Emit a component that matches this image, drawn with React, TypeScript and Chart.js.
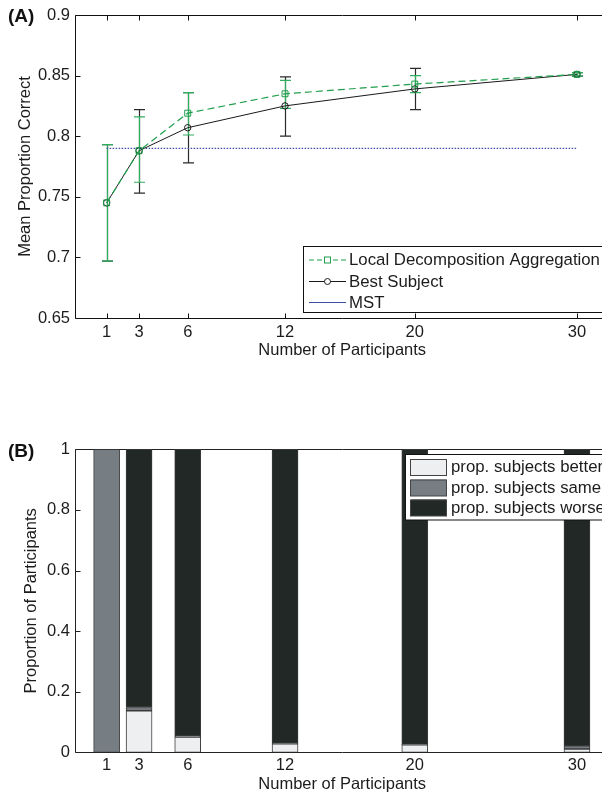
import React, { useEffect, useRef } from "react";
import { Chart, registerables } from "chart.js";
Chart.register(...registerables);

const FONT = "'Liberation Sans', Arial, Helvetica, sans-serif";
const TEXT = "#1c1c1c";

// ---------- Panel A data ----------
const participants = [1, 3, 6, 12, 20, 30];
const ldaMean = [0.745, 0.788, 0.819, 0.835, 0.843, 0.851];
const ldaLow = [0.697, 0.762, 0.801, 0.823, 0.836, 0.8495];
const ldaHigh = [0.793, 0.816, 0.836, 0.846, 0.850, 0.8525];
const bestMean = [0.745, 0.788, 0.807, 0.825, 0.839, 0.851];
const bestLow = [0.697, 0.753, 0.778, 0.800, 0.822, 0.8495];
const bestHigh = [0.793, 0.822, 0.836, 0.849, 0.856, 0.8525];
const mstX = [1, 30];
const mstY = [0.79, 0.79];
const topXTicks = [1, 3, 6, 12, 20, 30];
const topYTicks = [0.65, 0.7, 0.75, 0.8, 0.85, 0.9];
const legendA = ["Local Decomposition Aggregation", "Best Subject", "MST"];

// ---------- Panel B data ----------
const barX = [1, 3, 6, 12, 20, 30];
const propBetter = [0, 0.137, 0.05, 0.028, 0.025, 0.011];
const propSame = [1, 0.011, 0.004, 0.002, 0.001, 0.010];
const propWorse = [0, 0.852, 0.946, 0.970, 0.974, 0.979];
const bottomYTicks = [0, 0.2, 0.4, 0.6, 0.8, 1];
const legendB = ["prop. subjects better", "prop. subjects same", "prop. subjects worse"];

const GREEN = "#1f9e4c";
const GREEN_ERR = "#2fae5e";
const BLACK = "#1a1a1a";
const BLUE = "#3d4ea3";
const C_BETTER = "#eeeff0";
const C_SAME = "#767e84";
const C_WORSE = "#212826";

const pts = (xs: number[], ys: number[]) => xs.map((x, i) => ({ x, y: ys[i] }));

function drawFrame(chart: any, tickTop: boolean, color: string) {
  const { ctx, chartArea } = chart;
  const xs = chart.scales.x;
  const ys = chart.scales.y;
  ctx.save();
  ctx.strokeStyle = color;
  ctx.lineWidth = 1;
  const L = Math.round(chartArea.left) + 0.5;
  const T = Math.round(chartArea.top) + 0.5;
  const B = Math.round(chartArea.bottom) + 0.5;
  const R = chartArea.right;
  ctx.beginPath();
  ctx.moveTo(L, T);
  ctx.lineTo(R, T);
  ctx.moveTo(L, T);
  ctx.lineTo(L, B);
  ctx.lineTo(R, B);
  ctx.stroke();
  ctx.beginPath();
  for (const t of xs.ticks) {
    const px = Math.round(xs.getPixelForValue(t.value)) + 0.5;
    ctx.moveTo(px, B);
    ctx.lineTo(px, B - 5);
    if (tickTop) {
      ctx.moveTo(px, T);
      ctx.lineTo(px, T + 5);
    }
  }
  for (const t of ys.ticks) {
    const py = Math.round(ys.getPixelForValue(t.value)) + 0.5;
    ctx.moveTo(L, py);
    ctx.lineTo(L + 5, py);
  }
  ctx.stroke();
  ctx.restore();
}

function drawPanelLabel(ctx: CanvasRenderingContext2D, text: string, x: number, y: number) {
  ctx.save();
  ctx.fillStyle = "#111";
  ctx.font = `bold 19px ${FONT}`;
  ctx.textBaseline = "middle";
  ctx.textAlign = "left";
  ctx.fillText(text, x, y);
  ctx.restore();
}

const errorBarPlugin = {
  id: "errorBars",
  beforeDatasetsDraw(chart: any) {
    const { ctx } = chart;
    const xs = chart.scales.x;
    const ys = chart.scales.y;
    const sets = [
      { low: bestLow, high: bestHigh, color: "#2a2a2a" },
      { low: ldaLow, high: ldaHigh, color: GREEN_ERR },
    ];
    ctx.save();
    ctx.lineWidth = 1.2;
    for (const s of sets) {
      ctx.strokeStyle = s.color;
      ctx.beginPath();
      participants.forEach((p, i) => {
        const px = Math.round(xs.getPixelForValue(p)) + 0.5;
        const yl = ys.getPixelForValue(s.low[i]);
        const yh = ys.getPixelForValue(s.high[i]);
        ctx.moveTo(px, yl);
        ctx.lineTo(px, yh);
        ctx.moveTo(px - 5.5, yl);
        ctx.lineTo(px + 5.5, yl);
        ctx.moveTo(px - 5.5, yh);
        ctx.lineTo(px + 5.5, yh);
      });
      ctx.stroke();
    }
    ctx.restore();
  },
};

const frameAPlugin = {
  id: "frameA",
  afterDatasetsDraw(chart: any) {
    drawFrame(chart, true, "#111");
  },
  afterDraw(chart: any) {
    const ctx = chart.ctx as CanvasRenderingContext2D;
    drawPanelLabel(ctx, "(A)", 8, 16.5);
    ctx.save();
    const bx = 303.5, by = 246.5, bw = 330, bh = 66;
    ctx.fillStyle = "#fff";
    ctx.fillRect(bx, by, bw, bh);
    ctx.strokeStyle = "#111";
    ctx.lineWidth = 1;
    ctx.strokeRect(bx, by, bw, bh);
    const rows = [260, 281.5, 302.5];
    const x0 = 309, x1 = 346, xm = 327.5;
    ctx.strokeStyle = GREEN;
    ctx.setLineDash([5, 3]);
    ctx.beginPath();
    ctx.moveTo(x0, rows[0]);
    ctx.lineTo(x1, rows[0]);
    ctx.stroke();
    ctx.setLineDash([]);
    ctx.fillStyle = "#fff";
    ctx.fillRect(xm - 3, rows[0] - 3, 6, 6);
    ctx.strokeRect(xm - 3, rows[0] - 3, 6, 6);
    ctx.strokeStyle = BLACK;
    ctx.beginPath();
    ctx.moveTo(x0, rows[1]);
    ctx.lineTo(x1, rows[1]);
    ctx.stroke();
    ctx.fillStyle = "#fff";
    ctx.beginPath();
    ctx.arc(xm, rows[1], 3, 0, Math.PI * 2);
    ctx.fill();
    ctx.stroke();
    ctx.strokeStyle = BLUE;
    ctx.beginPath();
    ctx.moveTo(x0, rows[2]);
    ctx.lineTo(x1, rows[2]);
    ctx.stroke();
    ctx.fillStyle = TEXT;
    ctx.font = `16.8px ${FONT}`;
    ctx.textBaseline = "middle";
    ctx.textAlign = "left";
    legendA.forEach((t, i) => ctx.fillText(t, 349, rows[i] + 0.5));
    ctx.restore();
  },
};

const frameBPlugin = {
  id: "frameB",
  beforeDatasetsDraw(chart: any) {
    drawFrame(chart, true, "#222");
  },
  afterDraw(chart: any) {
    const ctx = chart.ctx as CanvasRenderingContext2D;
    drawPanelLabel(ctx, "(B)", 8, 52);
    ctx.save();
    const bx = 405.5, by = 54.5, bw = 300, bh = 65.5;
    ctx.fillStyle = "#fff";
    ctx.fillRect(bx, by, bw, bh);
    ctx.strokeStyle = "#111";
    ctx.lineWidth = 1;
    ctx.strokeRect(bx, by, bw, bh);
    const fills = [C_BETTER, C_SAME, C_WORSE];
    const tops = [59, 79.5, 99.5];
    tops.forEach((t, i) => {
      ctx.fillStyle = fills[i];
      ctx.fillRect(411, t, 35.5, 16.5);
      ctx.strokeStyle = "#444";
      ctx.strokeRect(410.5, t + 0.5, 36, 16);
    });
    ctx.fillStyle = TEXT;
    ctx.font = `16.8px ${FONT}`;
    ctx.textBaseline = "middle";
    ctx.textAlign = "left";
    legendB.forEach((t, i) => ctx.fillText(t, 451, tops[i] + 8.5));
    ctx.restore();
  },
};

const tickFont = { family: FONT, size: 16.5 };

function configA(): any {
  return {
    type: "line",
    data: {
      datasets: [
        {
          label: legendA[0],
          data: pts(participants, ldaMean),
          borderColor: GREEN,
          borderWidth: 1.2,
          borderDash: [7, 4],
          pointStyle: "rect",
          pointRadius: 4.2,
          pointBorderColor: GREEN,
          pointBackgroundColor: "rgba(255,255,255,0)",
          pointBorderWidth: 1,
          tension: 0,
        },
        {
          label: legendA[1],
          data: pts(participants, bestMean),
          borderColor: BLACK,
          borderWidth: 1,
          pointStyle: "circle",
          pointRadius: 3.2,
          pointBorderColor: BLACK,
          pointBackgroundColor: "rgba(255,255,255,0)",
          pointBorderWidth: 1,
          tension: 0,
        },
        {
          label: legendA[2],
          data: pts(mstX, mstY),
          borderColor: BLUE,
          borderWidth: 1.2,
          borderDash: [1.5, 1.5],
          pointRadius: 0,
          tension: 0,
        },
      ],
    },
    options: {
      responsive: false,
      animation: false,
      events: [],
      layout: { padding: { top: 15, left: 0, right: 11.6, bottom: 0 } },
      plugins: { legend: { display: false }, tooltip: { enabled: false } },
      scales: {
        x: {
          type: "linear",
          min: -0.95,
          max: 32,
          offset: false,
          grid: { display: false, drawTicks: false },
          border: { display: false },
          afterBuildTicks: (s: any) => {
            s.ticks = topXTicks.map((v) => ({ value: v }));
          },
          afterFit: (s: any) => {
            s.height = 62;
          },
          ticks: { font: tickFont, color: TEXT, padding: 4.4, maxRotation: 0, autoSkip: false, callback: (v: any) => String(v) },
          title: { display: true, text: "Number of Participants", font: tickFont, color: TEXT, padding: { top: 0, bottom: 20 } },
        },
        y: {
          type: "linear",
          min: 0.65,
          max: 0.9,
          grid: { display: false, drawTicks: false },
          border: { display: false },
          afterBuildTicks: (s: any) => {
            s.ticks = topYTicks.map((v) => ({ value: v }));
          },
          afterFit: (s: any) => {
            s.width = 75;
          },
          ticks: { font: tickFont, color: TEXT, padding: 5, autoSkip: false, callback: (v: any) => String(v) },
          title: { display: true, text: "Mean Proportion Correct", font: tickFont, color: TEXT, padding: { top: 16, bottom: 0 } },
        },
      },
    },
    plugins: [errorBarPlugin, frameAPlugin],
  };
}

function configB(): any {
  const common = { borderColor: "#3a3a3a", borderWidth: 1, borderSkipped: false, barThickness: 26 };
  return {
    type: "bar",
    data: {
      datasets: [
        { label: legendB[0], data: pts(barX, propBetter), backgroundColor: C_BETTER, ...common },
        { label: legendB[1], data: pts(barX, propSame), backgroundColor: C_SAME, ...common },
        { label: legendB[2], data: pts(barX, propWorse), backgroundColor: C_WORSE, ...common },
      ],
    },
    options: {
      responsive: false,
      animation: false,
      events: [],
      layout: { padding: { top: 49.3, left: 0, right: 11.6, bottom: 0 } },
      plugins: { legend: { display: false }, tooltip: { enabled: false } },
      scales: {
        x: {
          type: "linear",
          min: -0.95,
          max: 32,
          offset: false,
          stacked: true,
          grid: { display: false, drawTicks: false },
          border: { display: false },
          afterBuildTicks: (s: any) => {
            s.ticks = barX.map((v) => ({ value: v }));
          },
          afterFit: (s: any) => {
            s.height = 42.7;
          },
          ticks: { font: tickFont, color: TEXT, padding: 2.8, maxRotation: 0, autoSkip: false, callback: (v: any) => String(v) },
          title: { display: true, text: "Number of Participants", font: tickFont, color: TEXT, padding: { top: 0, bottom: 0.8 } },
        },
        y: {
          type: "linear",
          min: 0,
          max: 1,
          stacked: true,
          grid: { display: false, drawTicks: false },
          border: { display: false },
          afterBuildTicks: (s: any) => {
            s.ticks = bottomYTicks.map((v) => ({ value: v }));
          },
          afterFit: (s: any) => {
            s.width = 75;
          },
          ticks: { font: tickFont, color: TEXT, padding: 5, autoSkip: false, callback: (v: any) => String(v) },
          title: { display: true, text: "Proportion of Participants", font: tickFont, color: TEXT, padding: { top: 22, bottom: 0 } },
        },
      },
    },
    plugins: [frameBPlugin],
  };
}

export default function App() {
  const aRef = useRef<HTMLCanvasElement>(null);
  const bRef = useRef<HTMLCanvasElement>(null);
  useEffect(() => {
    const a = new Chart(aRef.current as HTMLCanvasElement, configA());
    const b = new Chart(bRef.current as HTMLCanvasElement, configB());
    return () => {
      a.destroy();
      b.destroy();
    };
  }, []);
  return (
    <div style={{ position: "absolute", left: 0, top: 0, width: 602, height: 795, overflow: "hidden", background: "#fff" }}>
      <canvas ref={aRef} width={621} height={380} style={{ position: "absolute", left: 0, top: 0, width: 621, height: 380 }} />
      <canvas ref={bRef} width={621} height={395} style={{ position: "absolute", left: 0, top: 400, width: 621, height: 395 }} />
    </div>
  );
}
